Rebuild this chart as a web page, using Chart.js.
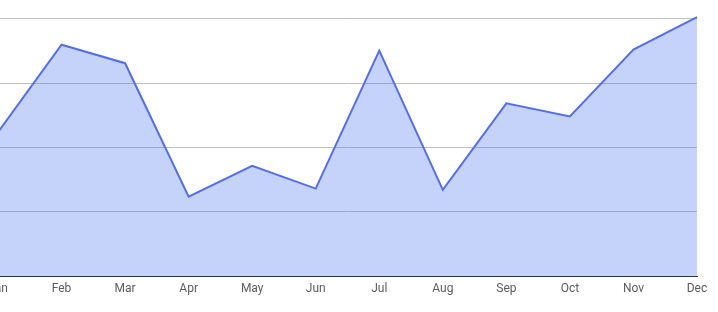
<!DOCTYPE html>
<html>
<head>
<meta charset="utf-8">
<script src="https://cdn.jsdelivr.net/npm/chart.js@4"></script>
<style>
  html, body { margin: 0; padding: 0; background: #fff; overflow: hidden; }
  #wrap { position: absolute; left: -2px; top: 0; width: 720px; height: 312px; }
</style>
</head>
<body>
<div id="wrap"><canvas id="chart" width="720" height="312"></canvas></div>
<script>
const months = ["Jan","Feb","Mar","Apr","May","Jun","Jul","Aug","Sep","Oct","Nov","Dec"];
const values = [56, 90, 82.8, 30.9, 42.9, 34, 87.7, 33.5, 67.2, 62.1, 88.1, 100.7];
const yTicks = [0, 25, 50, 75, 100];

const lineColor = "rgb(84,110,234)";
const fillColor = "rgba(62,108,238,0.3)";

const ctx = document.getElementById("chart").getContext("2d");
new Chart(ctx, {
  type: "line",
  data: {
    labels: months,
    datasets: [{
      data: values,
      borderColor: lineColor,
      backgroundColor: fillColor,
      borderWidth: 2,
      fill: "origin",
      tension: 0,
      pointRadius: 0,
      pointHoverRadius: 0
    }]
  },
  options: {
    responsive: false,
    animation: false,
    devicePixelRatio: 1,
    layout: { padding: { left: 0, right: 21, top: 10, bottom: 0 } },
    plugins: { legend: { display: false }, tooltip: { enabled: false } },
    scales: {
      x: {
        grid: { display: false, drawTicks: false },
        border: { display: true, color: "#333", width: 1 },
        ticks: {
          color: "#5b5b5b",
          font: { family: "Roboto", size: 12 },
          padding: 6,
          maxRotation: 0,
          autoSkip: false
        },
        afterFit(scale) {
          scale.paddingLeft = 0;
          scale.paddingRight = 0;
          scale.height = 36;
        }
      },
      y: {
        min: 0,
        max: 103.5,
        grid: { color: "#c0c0c0", drawTicks: false },
        border: { display: false },
        ticks: { display: false, stepSize: 25, includeBounds: false },
        afterBuildTicks(scale) {
          scale.ticks = yTicks.map(v => ({ value: v }));
        },
        afterFit(scale) {
          scale.width = 0;
        }
      }
    }
  }
});
</script>
</body>
</html>
